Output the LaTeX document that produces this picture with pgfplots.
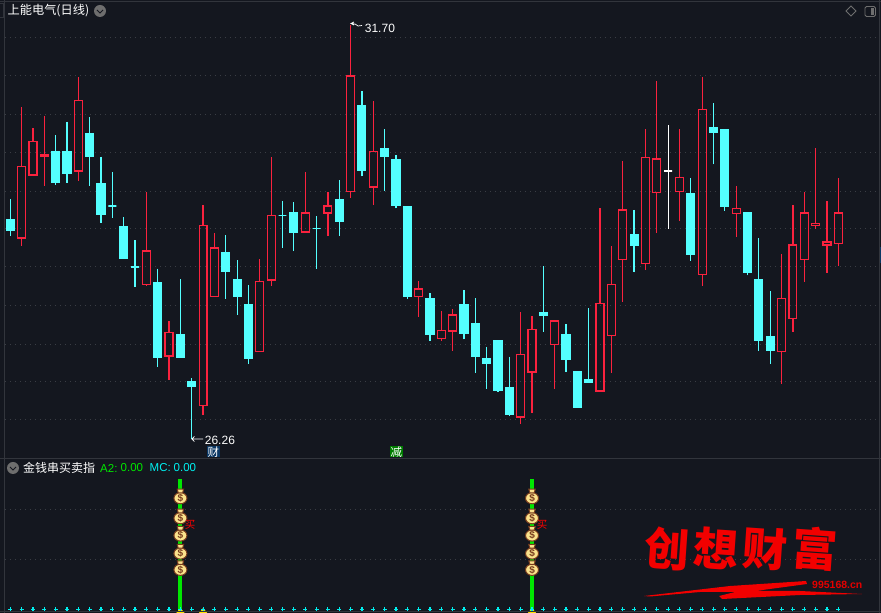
\documentclass[border=0pt]{standalone}
\usepackage{fontspec}
\usepackage{pgfplots}
\usepackage{pgfplotstable}
\pgfplotsset{compat=1.18}
\usepgfplotslibrary{statistics}
\setmainfont{Liberation Sans}
\newfontfamily\cjk{Noto Sans CJK SC}

\definecolor{bg}{RGB}{20,23,31}
\definecolor{frame}{RGB}{50,53,60}
\definecolor{griddot}{RGB}{58,61,68}
\definecolor{upred}{RGB}{250,34,62}
\definecolor{dncyan}{RGB}{84,255,255}
\definecolor{knob}{RGB}{110,110,110}
\definecolor{bagfill}{RGB}{250,226,140}
\definecolor{bagline}{RGB}{120,60,30}
\definecolor{stick}{RGB}{0,230,0}
\definecolor{mccyan}{RGB}{0,240,240}
\definecolor{caitag}{RGB}{10,55,100}
\definecolor{jiantag}{RGB}{0,125,0}

% daily candles, c: 0 up, 1 down, 2 flat
\pgfplotstableread{
i c low bot top high
0 1 28.93 29.00 29.14 29.41
1 0 28.79 28.90 29.84 30.62
2 0 29.73 29.73 30.17 30.35
3 0 29.58 29.98 30.00 30.50
4 1 29.60 29.63 30.03 30.25
5 1 29.63 29.75 30.03 30.43
6 0 29.65 29.78 30.71 31.02
7 1 29.59 29.97 30.27 30.49
8 1 29.10 29.21 29.61 29.97
9 1 29.17 29.32 29.32 29.77
10 1 28.63 28.63 29.05 29.18
11 1 28.26 28.52 28.52 28.87
12 0 28.27 28.29 28.73 29.51
13 1 27.21 27.33 28.32 28.50
14 0 27.03 27.35 27.66 27.81
15 1 27.33 27.33 27.63 28.36
16 1 26.26 26.95 27.01 27.06
17 0 26.57 26.70 29.07 29.33
18 0 28.13 28.13 28.77 28.97
19 1 28.10 28.46 28.71 28.94
20 1 27.89 28.13 28.36 28.61
21 1 27.25 27.32 28.03 28.28
22 0 27.41 27.41 28.33 28.62
23 0 28.27 28.35 29.20 29.97
24 1 28.77 29.20 29.20 29.39
25 1 28.73 28.98 29.23 29.37
26 0 28.98 28.98 29.23 29.77
27 1 28.50 29.03 29.03 29.19
28 0 28.93 29.23 29.32 29.51
29 1 28.93 29.12 29.40 29.66
30 0 29.43 29.51 31.03 31.70
31 1 29.71 29.79 30.64 30.83
32 0 29.33 29.57 30.04 30.70
33 1 29.52 29.98 30.08 30.33
34 1 29.29 29.33 29.93 29.99
35 1 28.10 28.14 29.31 29.31
36 0 27.86 28.13 28.23 28.34
37 1 27.55 27.63 28.10 28.18
38 0 27.55 27.58 27.69 27.94
39 0 27.42 27.68 27.89 27.97
40 1 27.57 27.65 28.02 28.22
41 1 27.13 27.34 27.78 28.11
42 1 26.92 27.26 27.31 27.47
43 1 26.88 26.90 27.55 27.55
44 1 26.56 26.58 26.94 27.34
45 0 26.46 26.55 27.37 27.93
46 0 26.60 27.14 27.70 27.88
47 1 27.67 27.89 27.92 28.53
48 0 26.92 27.50 27.81 27.81
49 1 27.14 27.31 27.63 27.77
50 1 26.68 26.68 27.15 27.15
51 1 27.00 27.00 27.04 27.98
52 0 26.89 26.89 28.04 29.30
53 0 27.13 27.62 28.29 28.80
54 0 28.06 28.62 29.27 29.91
55 1 28.45 28.80 28.94 29.27
56 0 28.48 28.57 29.96 30.33
57 0 28.97 29.50 29.94 30.96
58 2 29.02 29.78 29.78 30.39
59 0 29.13 29.51 29.70 30.33
60 1 28.60 28.68 29.48 29.69
61 0 28.27 28.42 30.59 31.02
62 1 29.87 30.29 30.35 30.67
63 1 29.26 29.32 30.33 30.33
64 0 28.91 29.22 29.29 29.58
65 1 28.41 28.45 29.23 29.23
66 1 27.42 27.56 28.36 28.90
67 1 27.25 27.43 27.61 28.20
68 0 26.98 27.41 28.11 28.69
69 0 27.67 27.84 28.81 29.33
70 0 28.32 28.62 29.23 29.51
71 0 29.02 29.07 29.09 30.08
72 0 28.44 28.81 28.85 29.39
73 0 28.53 28.83 29.23 29.69
}\candles

\pgfplotsset{
  boxplot/draw direction=y,
  boxplot/box extend=0.7,
  boxplot/whisker extend=0,
  boxplot/every median/.style={draw=none},
  candle0/.style={draw=upred,line width=1.25pt},
  candle1/.style={draw=dncyan,fill=dncyan,line width=1.25pt},
  candle2/.style={draw=white,line width=1.25pt},
  panel/.style={
    hide axis,scale only axis,anchor=south west,width=875pt,
    xmin=-0.5114,xmax=76.636},
  griddots/.style={griddot,line width=1pt,dash pattern=on 1pt off 4pt,forget plot},
}

% money bag mark for the lower panel
\pgfdeclareplotmark{moneybag}{%
  \pgfsetlinewidth{1pt}%
  \pgfsetstrokecolor{bagline}\pgfsetfillcolor{bagfill}%
  \pgfpathellipse{\pgfpoint{0pt}{-1.5pt}}{\pgfpoint{6.5pt}{0pt}}{\pgfpoint{0pt}{5.6pt}}%
  \pgfusepath{fill,stroke}%
  \pgfpathmoveto{\pgfpoint{-2.2pt}{3.8pt}}%
  \pgfpathlineto{\pgfpoint{-3.2pt}{7.5pt}}%
  \pgfpathlineto{\pgfpoint{3.2pt}{7.5pt}}%
  \pgfpathlineto{\pgfpoint{2.2pt}{3.8pt}}%
  \pgfpathclose\pgfusepath{fill,stroke}%
  \pgftext[x=0pt,y=-1.5pt]{\color{bagline}\fontsize{10}{10}\selectfont\bfseries\$}%
}

\begin{document}
\begin{tikzpicture}
\useasboundingbox (0,0) rectangle (881pt,613pt);
\fill[bg] (0,0) rectangle (881pt,613pt);

\begin{axis}[panel,at={(4.5pt,154pt)},height=457.5pt,ymin=25.997,ymax=32.009]
  \pgfplotsinvokeforeach{31.54,31.03,30.53,30.03,29.51,29.02,28.52,28.02,27.50,27.01,26.51}{
    \addplot[griddots] coordinates {(-0.43,#1) (76.28,#1)};
  }
  \pgfplotsforeachungrouped \k in {0,...,73}{
    \pgfplotstablegetelem{\k}{c}\of\candles\let\vc\pgfplotsretval
    \pgfplotstablegetelem{\k}{low}\of\candles\let\vlow\pgfplotsretval
    \pgfplotstablegetelem{\k}{bot}\of\candles\let\vbot\pgfplotsretval
    \pgfplotstablegetelem{\k}{top}\of\candles\let\vtop\pgfplotsretval
    \pgfplotstablegetelem{\k}{high}\of\candles\let\vhigh\pgfplotsretval
    \edef\tmp{\noexpand\addplot[candle\vc,
      boxplot prepared={draw position=\k,
        lower whisker=\vlow,lower quartile=\vbot,median=\vbot,
        upper quartile=\vtop,upper whisker=\vhigh}] coordinates {};}
    \tmp
  }
\end{axis}

% lower panel, heights in screen units above its base
\begin{axis}[panel,at={(4.5pt,1pt)},height=153pt,ymin=0,ymax=153]
  \addplot[griddots] coordinates {(-0.43,102.7) (76.28,102.7)};
  \addplot[griddots] coordinates {(-0.43,52.7) (76.28,52.7)};
  \addplot[ycomb,stick,line width=4pt,no markers] coordinates {(15,133) (46,133)};
  \addplot[only marks,mark=moneybag] coordinates {
    (15,115.3) (15,95.3) (15,78) (15,60) (15,43.7)
    (46,115.3) (46,95.3) (46,78) (46,60) (46,43.7)};
  \addplot[only marks,mark=triangle*,mark size=4.5pt,yellow!85!orange,mark options={solid,yscale=0.7}]
    coordinates {(15,0.5) (17,0.5) (46,0.5)};
  \addplot[only marks,mark=+,mark size=2pt,line width=1.2pt,mccyan] coordinates {
    (0,2.7) (1,2.7) (2,2.7) (3,2.7) (4,2.7) (5,2.7) (6,2.7) (7,2.7) (8,2.7) (9,2.7)
    (10,2.7) (11,2.7) (12,2.7) (13,2.7) (14,2.7) (15,2.7) (16,2.7) (17,2.7) (18,2.7) (19,2.7)
    (20,2.7) (21,2.7) (22,2.7) (23,2.7) (24,2.7) (25,2.7) (26,2.7) (27,2.7) (28,2.7) (29,2.7)
    (30,2.7) (31,2.7) (32,2.7) (33,2.7) (34,2.7) (35,2.7) (36,2.7) (37,2.7) (38,2.7) (39,2.7)
    (40,2.7) (41,2.7) (42,2.7) (43,2.7) (44,2.7) (45,2.7) (46,2.7) (47,2.7) (48,2.7) (49,2.7)
    (50,2.7) (51,2.7) (52,2.7) (53,2.7) (54,2.7) (55,2.7) (56,2.7) (57,2.7) (58,2.7) (59,2.7)
    (60,2.7) (61,2.7) (62,2.7) (63,2.7) (64,2.7) (65,2.7) (66,2.7) (67,2.7) (68,2.7) (69,2.7)
    (70,2.7) (71,2.7) (72,2.7) (73,2.7)};
\end{axis}

% window furniture and labels, in screen units from the top left
\begin{scope}[shift={(0,613pt)},x=1pt,y=-1pt]
  \draw[frame,line width=1pt] (0,1.5) -- (881,1.5)  (0,459) -- (881,459)  (0,612) -- (881,612)
    (4.5,0) -- (4.5,613)  (879.5,0) -- (879.5,613);
  \draw[frame,line width=0.8pt] (-1,3.5) rectangle (3.2,17);
  \fill[caitag] (879.5,247) rectangle (881,263);

  \node[anchor=west,inner sep=0pt,white,font=\cjk\fontsize{12.2}{12.2}\selectfont] at (7.5,11) {上能电气(日线)};
  \node[anchor=west,inner sep=0pt,white,font=\cjk\fontsize{12}{12}\selectfont] at (23,468) {金钱串买卖指};
  \foreach \cx/\cy in {100/11,13/468}{
    \fill[knob] (\cx,\cy) circle (6);
    \draw[bg,line width=1pt] (\cx-3,\cy-1) -- (\cx,\cy+2) -- (\cx+3,\cy-1);
  }
  \node[anchor=west,inner sep=0pt,stick,font=\fontsize{11.5}{11.5}\selectfont] at (100,468) {A2:};
  \node[anchor=west,inner sep=0pt,stick,font=\fontsize{11.5}{11.5}\selectfont] at (120.5,468) {0.00};
  \node[anchor=west,inner sep=0pt,mccyan,font=\fontsize{11.5}{11.5}\selectfont] at (149.5,468) {MC:};
  \node[anchor=west,inner sep=0pt,mccyan,font=\fontsize{11.5}{11.5}\selectfont] at (173.5,468) {0.00};

  \draw[knob,line width=0.8pt] (851,6) -- (856,11) -- (851,16) -- (846,11) -- cycle;
  \draw[knob,line width=0.9pt,rounded corners=1.5pt] (865,6.5) rectangle (875.5,16.5);
  \fill[knob] (871,8) rectangle (874,15);

  % high and low flags
  \draw[white,line width=0.7pt] (354,22) -- (351,23.5) -- (354,25)  (351,23.5) -- (355,24) -- (358,26) -- (362,25.5);
  \node[anchor=west,inner sep=0pt,white,font=\fontsize{12}{12}\selectfont] at (364.7,28) {31.70};
  \draw[white,line width=0.7pt] (194.5,436.5) -- (191.8,439) -- (194.5,441.5)  (191.8,439) -- (203,439);
  \node[anchor=west,inner sep=0pt,white,font=\fontsize{12}{12}\selectfont] at (204.7,440.5) {26.26};

  \node[fill=caitag,text=white,inner sep=0.5pt,font=\cjk\fontsize{11.5}{11.5}\selectfont] at (213.3,451.7) {财};
  \node[fill=jiantag,text=white,inner sep=0.5pt,font=\cjk\fontsize{11.5}{11.5}\selectfont] at (396.3,451.7) {减};
  \node[red,font=\cjk\fontsize{10.5}{10.5}\selectfont] at (190,524.5) {买};
  \node[red,font=\cjk\fontsize{10.5}{10.5}\selectfont] at (542,524.5) {买};

  % watermark
  \foreach \wx/\wc in {667/创,716/想,765/财,815/富}{
    \node[red!95!black,rotate=-4,font=\cjk\bfseries\fontsize{45}{45}\selectfont] at (\wx,549) {\wc};
  }
  \fill[red!95!black] (644,596) -- (730,586) -- (806,581) -- (807,584) -- (755,591) -- (800,591)
    -- (862,594) -- (800,595) -- (722,599) -- (719,596) -- (735,592) -- (700,592) -- (650,596.5) -- cycle;
  \node[anchor=west,inner sep=0pt,red!90!black,font=\bfseries\fontsize{10.5}{10.5}\selectfont] at (812,585) {995168.cn};
\end{scope}
\end{tikzpicture}
\end{document}
